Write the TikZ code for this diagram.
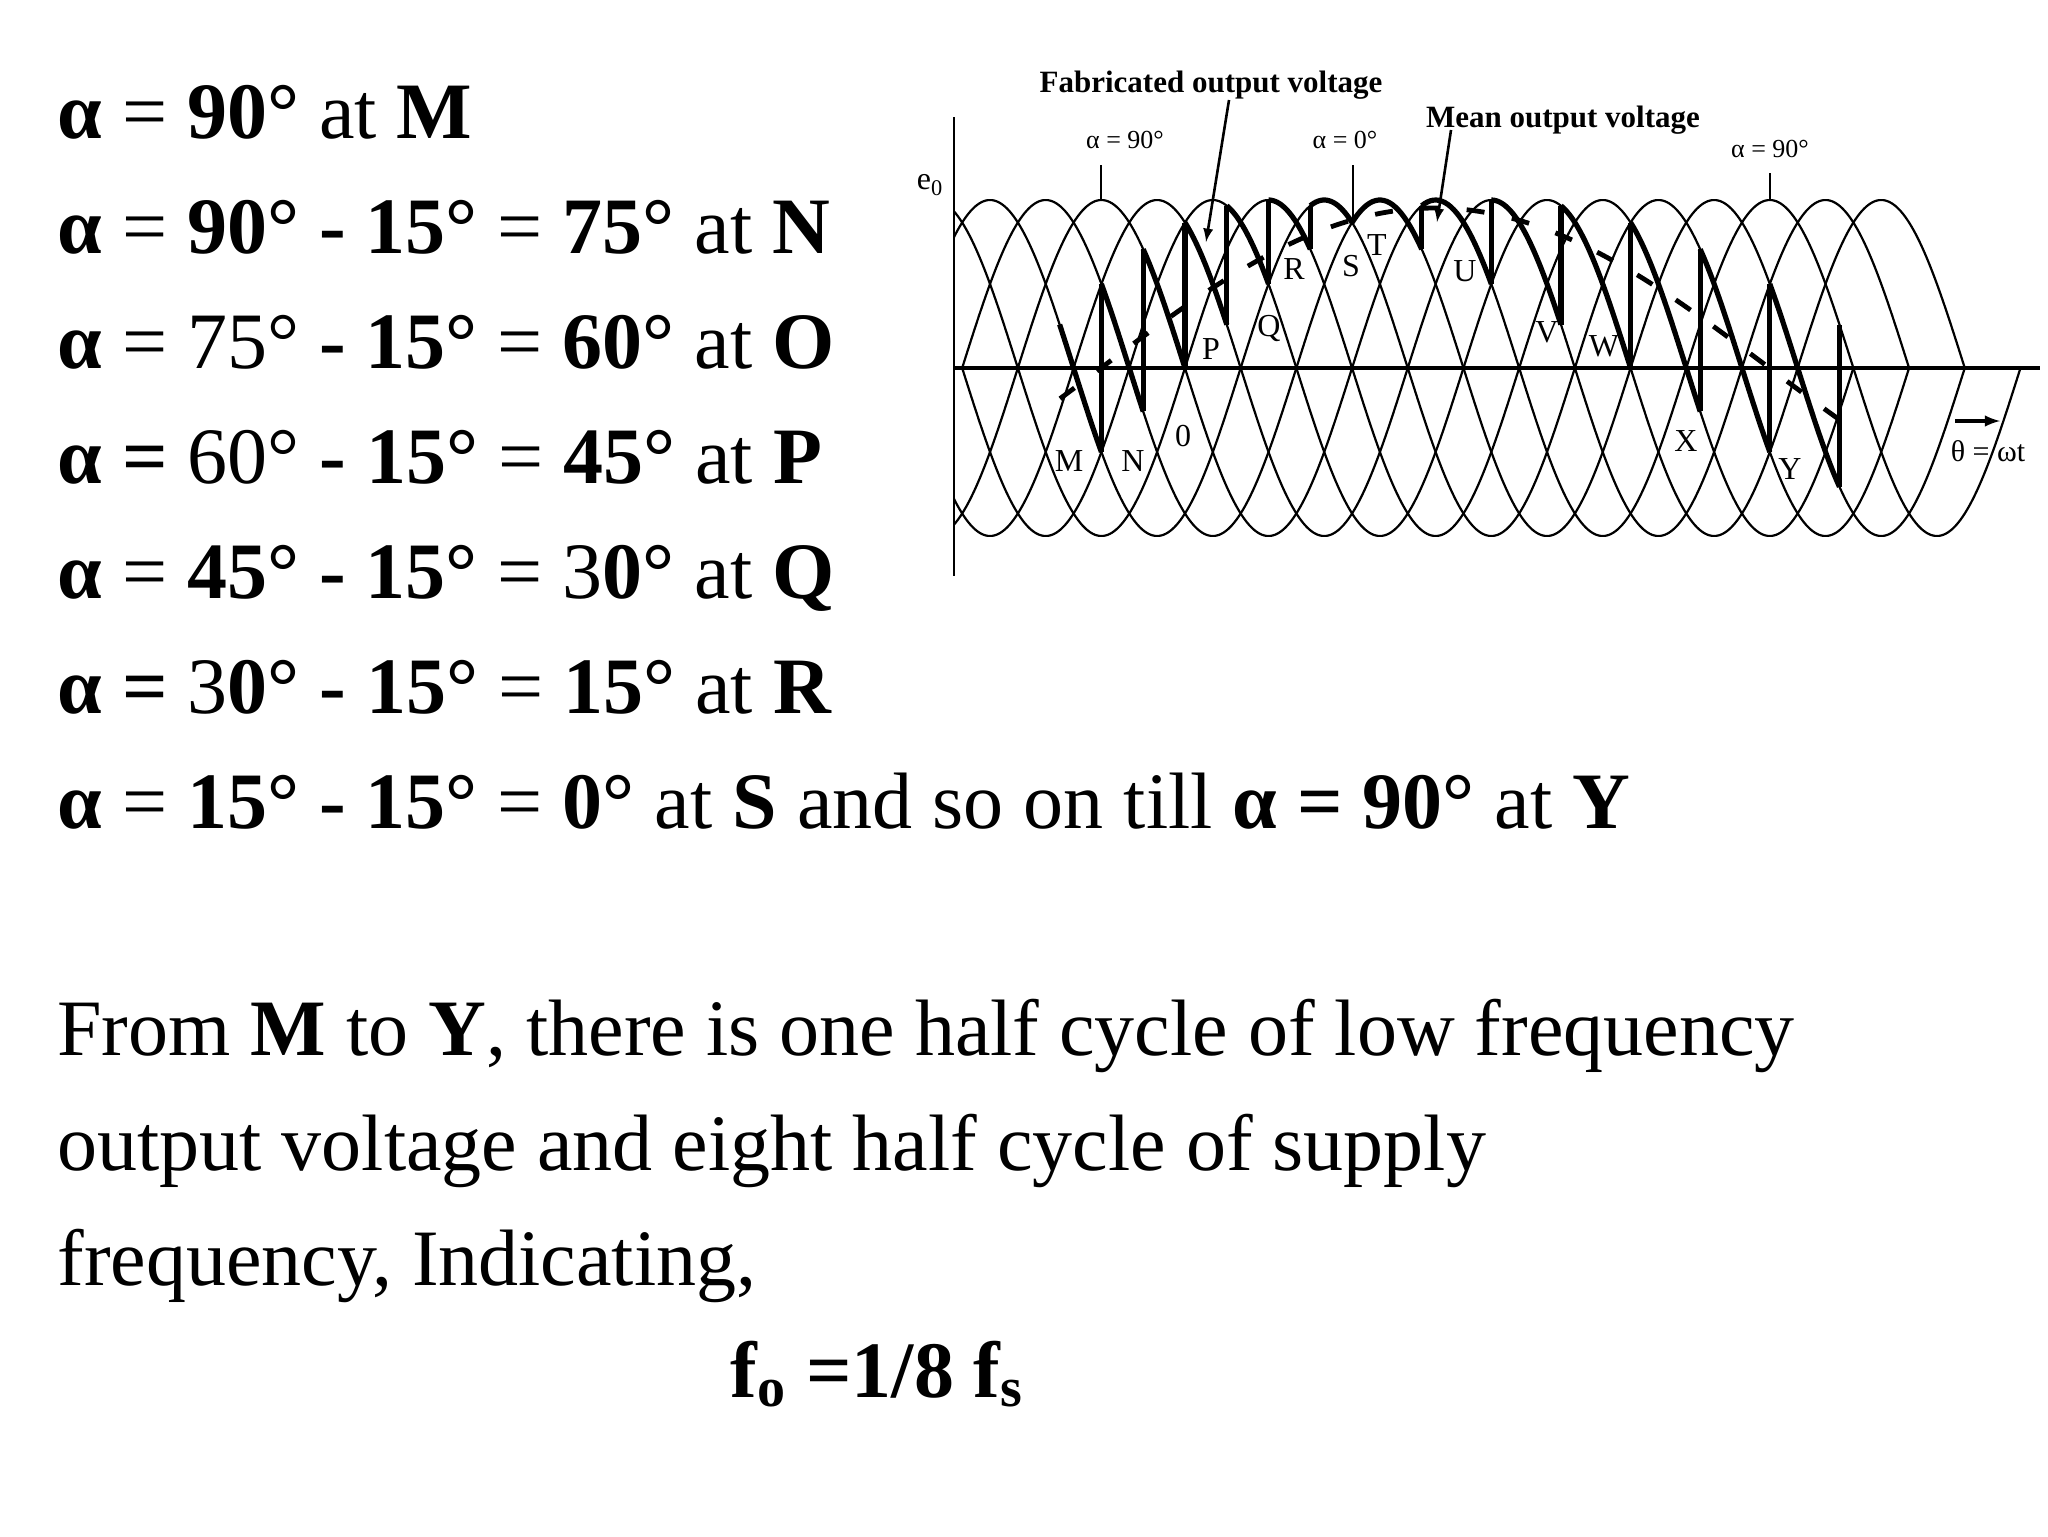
\documentclass[tikz,border=0pt]{standalone}
\usepackage{fontspec}
\setmainfont{Liberation Serif}
\begin{document}
\begin{tikzpicture}[x=0.5pt,y=-0.5pt,
  maintext/.style={anchor=base west,inner sep=0pt,font=\fontsize{40}{46}\selectfont},
  ptlabel/.style={inner sep=0pt,font=\fontsize{16}{18}\selectfont},
  toplabel/.style={inner sep=0pt,font=\bfseries\fontsize{15.5}{18}\selectfont},
  alabel/.style={inner sep=0pt,font=\fontsize{13}{15}\selectfont},
  wave/.style={line width=1.1pt},
  outwave/.style={line width=2.6pt,line join=round},
  meanwave/.style={line width=2.4pt,dash pattern=on 9pt off 14pt}]
\useasboundingbox (0,0) rectangle (2048,1536);
\fill[white] (0,0) rectangle (2048,1536);
% axes
\coordinate (vt) at (954,117); \coordinate (vb) at (954,576);
\coordinate (hl) at (954,368); \coordinate (hr) at (2040,368);
\draw[line width=1.4pt] (vt) -- (vb);
\draw[line width=1.8pt] (hl) -- (hr);
% supply arches
\begin{scope}
\clip (954,0) rectangle (2048,1536);
\foreach \k in {-1,...,16}{
  \pgfmathsetmacro{\p}{990+55.7*\k}
  \draw[wave] plot[domain={\p-83.55}:{\p+83.55},samples=40,smooth] (\x,{368-168*cos((\x-\p)*1.07719)});
}
\foreach \k in {-1,...,17}{
  \pgfmathsetmacro{\p}{990+55.7*\k}
  \draw[wave] plot[domain={\p-83.55}:{\p+83.55},samples=40,smooth] (\x,{368+168*cos((\x-\p)*1.07719)});
}
\end{scope}
% fabricated output
\foreach \i in {-1,...,12}{
  \pgfmathsetmacro{\c}{990+55.7*\i}
  \pgfmathsetmacro{\p}{990+55.7*(\i+1)}
  \pgfmathsetmacro{\q}{990+55.7*(\i+2)}
  \pgfmathsetmacro{\xa}{\c+27.85+13.925*abs(\i-6)}
  \pgfmathsetmacro{\xb}{\p+27.85+13.925*abs(\i+1-6)}
  \pgfmathsetmacro{\ya}{368-168*cos((\xb-\p)*1.07719)}
  \pgfmathsetmacro{\yb}{368-168*cos((\xb-\q)*1.07719)}
  \draw[outwave] plot[domain=\xa:\xb,samples=25,smooth] (\x,{368-168*cos((\x-\p)*1.07719)});
  \draw[outwave] (\xb,\ya) -- (\xb,\yb);
}
% mean output
\draw[meanwave] plot[domain=1060:1840,samples=60,smooth] (\x,{368-160*sin((\x-1101)*0.269300)});
% point labels
\node[ptlabel] (lM) at (1069,461) {M};
\node[ptlabel] (lN) at (1133,461) {N};
\node[ptlabel] (lO) at (1183,436) {0};
\node[ptlabel] (lP) at (1211,349) {P};
\node[ptlabel] (lQ) at (1269,328) {Q};
\node[ptlabel] (lR) at (1294,269) {R};
\node[ptlabel] (lS) at (1351,266) {S};
\node[ptlabel] (lT) at (1377,245) {T};
\node[ptlabel] (lU) at (1465,271) {U};
\node[ptlabel] (lV) at (1547,332) {V};
\node[ptlabel] (lW) at (1604,346) {W};
\node[ptlabel] (lX) at (1686,441) {X};
\node[ptlabel] (lY) at (1790,469) {Y};
\node[ptlabel] (e0) at (930,185) {e\textsubscript{0}};
\node[alabel,font=\fontsize{15}{17}\selectfont] (wt) at (1988,451) {θ = ωt};
\coordinate (wa) at (1955,421); \coordinate (wb) at (2000,421);
\draw[line width=1.6pt,-latex] (wa) -- (wb);
% top labels
\node[toplabel] (fab) at (1211,85) {Fabricated output voltage};
\node[toplabel] (mean) at (1563,120) {Mean output voltage};
\node[alabel] (a1) at (1125,140) {α = 90°};
\node[alabel] (a2) at (1345,140) {α = 0°};
\node[alabel] (a3) at (1770,149) {α = 90°};
\coordinate (a1s) at (1101,165); \coordinate (a2s) at (1353,165); \coordinate (a3s) at (1770,173);
\coordinate (a1e) at (1101,200); \coordinate (a2e) at (1353,220); \coordinate (a3e) at (1770,200);
\draw[line width=1.2pt] (a1s) -- (a1e);
\draw[line width=1.2pt] (a2s) -- (a2e);
\draw[line width=1.2pt] (a3s) -- (a3e);
\coordinate (fabs) at (1229,100); \coordinate (means) at (1451,130);
\coordinate (fabe) at (1206,242); \coordinate (meane) at (1437,222);
\draw[line width=1.3pt,-latex] (fabs) -- (fabe);
\draw[line width=1.3pt,-latex] (means) -- (meane);
% main text
\node[maintext] (t1) at (57,138) {\textbf{α} = \textbf{90°} at \textbf{M}};
\node[maintext] (t2) at (57,253) {\textbf{α} = \textbf{90° - 15°} = \textbf{75°} at \textbf{N}};
\node[maintext] (t3) at (57,368) {\textbf{α} = 75° \textbf{- 15°} = \textbf{60°} at \textbf{O}};
\node[maintext] (t4) at (57,483) {\textbf{α =} 60° \textbf{- 15°} = \textbf{45°} at \textbf{P}};
\node[maintext] (t5) at (57,598) {\textbf{α} = \textbf{45° - 15°} = 3\textbf{0°} at \textbf{Q}};
\node[maintext] (t6) at (57,713) {\textbf{α =} 3\textbf{0°} \textbf{- 15°} = \textbf{15°} at \textbf{R}};
\node[maintext] (t7) at (57,828) {\textbf{α} = \textbf{15° - 15°} = \textbf{0°} at \textbf{S} and so on till \textbf{α = 90°} at \textbf{Y}};
\node[maintext] (p1) at (57,1055) {From \textbf{M} to \textbf{Y}, there is one half cycle of low frequency};
\node[maintext] (p2) at (57,1170) {output voltage and eight half cycle of supply};
\node[maintext] (p3) at (57,1285) {frequency, Indicating,};
\node[maintext,anchor=base] (f) at (877,1397) {\textbf{f\textsubscript{o} =1/8 f\textsubscript{s}}};
\end{tikzpicture}
\end{document}
